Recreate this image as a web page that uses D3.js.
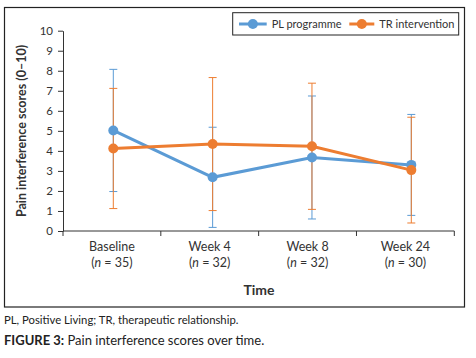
<!DOCTYPE html>
<html>
    <head>
        <meta charset="utf-8">
        <style>
            body {
                margin: 0;
                background: #fff;
                font-family: Lato, "Open Sans", sans-serif;
            }
            .axis path, .axis line {
                stroke: #333;
                stroke-width: 1;
            }
            .axis text {
                font-family: Lato, sans-serif;
                font-size: 11.5px;
                fill: #333;
            }
            .series-line {
                fill: none;
                stroke-width: 3;
            }
            .err {
                stroke-width: 1;
            }
        </style>
    </head>
    <body>
        <script src="https://d3js.org/d3.v7.min.js"></script>

        <script>
            const categories = ['Baseline', 'Week 4', 'Week 8', 'Week 24'];
            const sampleSizes = [35, 32, 32, 30];
            const plMean = [5.02, 2.68, 3.67, 3.30];
            const plSd = [3.05, 2.50, 3.07, 2.52];
            const trMean = [4.12, 4.34, 4.23, 3.04];
            const trSd = [3.00, 3.32, 3.15, 2.64];
            const yTicks = [0, 1, 2, 3, 4, 5, 6, 7, 8, 9, 10];

            function makeChart() {
                const width = 476;
                const height = 358;
                const margin = ({top: 30.7, right: 22, bottom: 127, left: 63});

                const svg = d3.select('body').append('svg')
                    .attr('width', width)
                    .attr('height', height);

                // outer frame
                svg.append('rect')
                    .attr('x', 4.5).attr('y', 7.5)
                    .attr('width', 460).attr('height', 299.5)
                    .attr('fill', 'none')
                    .attr('stroke', '#222')
                    .attr('stroke-width', 1.2);

                const xBand = d3.scaleBand()
                    .domain(categories)
                    .range([margin.left, 454.3]);

                // markers sit a little right of band centres in the original
                const xPoint = d3.scalePoint()
                    .domain(categories)
                    .range([113.3, 411.3]);

                const yScale = d3.scaleLinear()
                    .domain([0, 10])
                    .range([231, margin.top]);

                // y axis
                svg.append('g')
                    .attr('class', 'axis')
                    .attr('transform', 'translate(' + margin.left + ',0)')
                    .call(d3.axisLeft(yScale).tickValues(yTicks).tickSize(5).tickPadding(5).tickSizeOuter(0));

                // x axis, ticks at band edges
                const xg = svg.append('g')
                    .attr('class', 'axis')
                    .attr('transform', 'translate(0,231)');
                xg.append('line')
                    .attr('x1', margin.left).attr('x2', 454.3);
                const edges = categories.map(c => xBand(c)).concat([xBand.range()[1]]);
                xg.selectAll('.tk').data(edges).join('line')
                    .attr('x1', d => d).attr('x2', d => d)
                    .attr('y1', 0).attr('y2', 5);

                const lbl = svg.append('g').selectAll('text')
                    .data(categories)
                    .join('text')
                    .attr('text-anchor', 'middle')
                    .attr('font-size', 12.5)
                    .attr('fill', '#333')
                    .attr('x', d => xBand(d) + xBand.bandwidth() / 2);
                lbl.append('tspan').attr('y', 250.5).text(d => d);
                lbl.append('tspan')
                    .attr('x', d => xBand(d) + xBand.bandwidth() / 2)
                    .attr('y', 266.5)
                    .each(function(d, i) {
                        const t = d3.select(this);
                        t.append('tspan').text('(');
                        t.append('tspan').attr('font-style', 'italic').text('n');
                        t.append('tspan').text(' = ' + sampleSizes[i] + ')');
                    });

                svg.append('text')
                    .attr('x', 259).attr('y', 295)
                    .attr('text-anchor', 'middle')
                    .attr('font-size', 14)
                    .attr('font-weight', 'bold')
                    .attr('fill', '#333')
                    .text('Time');

                svg.append('text')
                    .attr('transform', 'translate(26,131) rotate(-90)')
                    .attr('text-anchor', 'middle')
                    .attr('font-size', 12.5)
                    .attr('font-weight', 'bold')
                    .attr('fill', '#333')
                    .text('Pain interference scores (0–10)');

                const series = [
                    {name: 'PL programme', mean: plMean, sd: plSd, color: '#5B9BD5'},
                    {name: 'TR intervention', mean: trMean, sd: trSd, color: '#ED7D31'}
                ];

                // error bars
                series.forEach(s => {
                    const g = svg.append('g').attr('stroke', s.color).attr('class', 'err');
                    categories.forEach((c, i) => {
                        const x = xPoint(c);
                        const lo = yScale(s.mean[i] - s.sd[i]);
                        const hi = yScale(s.mean[i] + s.sd[i]);
                        g.append('line').attr('x1', x).attr('x2', x).attr('y1', lo).attr('y2', hi);
                        g.append('line').attr('x1', x - 4).attr('x2', x + 4).attr('y1', lo).attr('y2', lo);
                        g.append('line').attr('x1', x - 4).attr('x2', x + 4).attr('y1', hi).attr('y2', hi);
                    });
                });

                const line = d3.line()
                    .x((d, i) => xPoint(categories[i]))
                    .y(d => yScale(d));

                series.forEach(s => {
                    svg.append('path')
                        .datum(s.mean)
                        .attr('class', 'series-line')
                        .attr('stroke', s.color)
                        .attr('d', line);
                    svg.append('g').selectAll('circle')
                        .data(s.mean)
                        .join('circle')
                        .attr('cx', (d, i) => xPoint(categories[i]))
                        .attr('cy', d => yScale(d))
                        .attr('r', 5)
                        .attr('fill', s.color);
                });

                // legend
                const lg = svg.append('g');
                lg.append('rect')
                    .attr('x', 232.7).attr('y', 12.7)
                    .attr('width', 226).attr('height', 22.3)
                    .attr('fill', '#fff')
                    .attr('stroke', '#222')
                    .attr('stroke-width', 1);
                const legendPos = [{x1: 239, x2: 266.7, tx: 271.7}, {x1: 349.3, x2: 374.3, tx: 379.3}];
                series.forEach((s, i) => {
                    const p = legendPos[i];
                    lg.append('line')
                        .attr('x1', p.x1).attr('x2', p.x2)
                        .attr('y1', 24).attr('y2', 24)
                        .attr('stroke', s.color).attr('stroke-width', 3);
                    lg.append('circle')
                        .attr('cx', (p.x1 + p.x2) / 2).attr('cy', 24)
                        .attr('r', 5).attr('fill', s.color);
                    lg.append('text')
                        .attr('x', p.tx).attr('y', 28)
                        .attr('font-size', 11)
                        .attr('fill', '#333')
                        .text(s.name);
                });

                // caption
                svg.append('text')
                    .attr('x', 4).attr('y', 324)
                    .attr('font-size', 11.3)
                    .attr('fill', '#222')
                    .text('PL, Positive Living; TR, therapeutic relationship.');
                const cap = svg.append('text')
                    .attr('x', 4).attr('y', 345)
                    .attr('font-size', 13)
                    .attr('fill', '#222');
                cap.append('tspan').attr('font-weight', 'bold').text('FIGURE 3:');
                cap.append('tspan').text(' Pain interference scores over time.');
            }
            makeChart();
        </script>
    </body>
</html>
